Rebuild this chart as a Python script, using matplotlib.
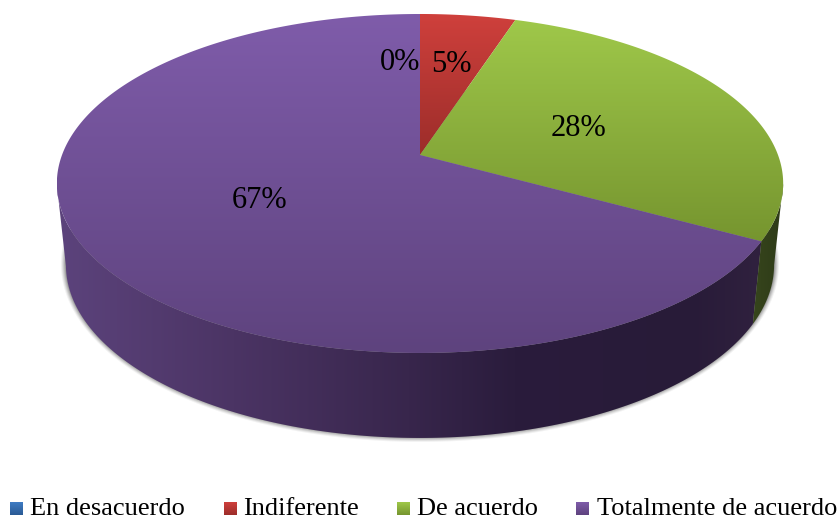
import numpy as np
import matplotlib
matplotlib.use('Agg')
import matplotlib.pyplot as plt
from matplotlib.colors import LinearSegmentedColormap
from matplotlib.patches import Polygon

categories = ['En desacuerdo', 'Indiferente', 'De acuerdo', 'Totalmente de acuerdo']
values = [0, 5, 28, 67]
colors_top = [('#3F7CC4', '#2A5A94'), ('#CF403C', '#9C2D2A'), ('#9FC84A', '#76952F'), ('#7F5CAA', '#5E437E')]
legend_x = [10, 224, 397, 576]
text_x = [30, 243, 417, 597]
label_pos = [(400, 62), (451, 64), (578, 128), (260, 200)]

plt.rcParams['font.family'] = ['Liberation Serif', 'DejaVu Serif']

fig = plt.figure(figsize=(8.39, 5.21), dpi=100)
ax = fig.add_axes([0, 0, 1, 1])
ax.set_xlim(0, 839)
ax.set_ylim(521, 0)
ax.axis('off')


def top_rim(theta):
    # perspective circle, the pie center is not the ellipse center
    k, a, b = 0.168, 358.0, 164.7
    d = 1 + k * np.cos(theta)
    return 420 + a * np.sin(theta) / d, 155 - b * np.cos(theta) / d


def bottom_rim(theta):
    x, y = top_rim(theta)
    return 420 + (x - 420) * 0.975, 265 + (y - 183.5) * 173 / 169.5


def fill_gradient(points, stops, horizontal=False):
    # gradient image clipped to a polygon
    points = np.array(points)
    x0, y0 = points.min(axis=0)
    x1, y1 = points.max(axis=0)
    cmap = LinearSegmentedColormap.from_list('g', stops)
    grad = np.linspace(0, 1, 256).reshape(1, -1) if horizontal else np.linspace(0, 1, 256).reshape(-1, 1)
    im = ax.imshow(grad, cmap=cmap, extent=(x0, x1, y1, y0), aspect='auto', zorder=3, interpolation='bilinear')
    patch = Polygon(points, closed=True, transform=ax.transData, fill=False, edgecolor='none')
    ax.add_patch(patch)
    im.set_clip_path(patch)


fractions = np.cumsum([0] + values) / sum(values)
angles = fractions * 2 * np.pi

# soft shadow under the side
t = np.linspace(0, 2 * np.pi, 400)
bx, by = bottom_rim(t)
for grow, alpha in [(5, 0.05), (4, 0.07), (3, 0.09), (2, 0.11), (1, 0.14)]:
    sx = 420 + (bx - 420) * (1 + grow / 354)
    sy = 265 + (by - 265) * (1 + grow / 173) - 1
    ax.fill(sx, sy, color='black', alpha=alpha, lw=0, zorder=1)

# purple side, from the green border round to the left edge
t = np.linspace(angles[3], 2 * np.pi, 300)
tx, ty = top_rim(t)
left = np.argmin(tx)
tx, ty = tx[:left + 1], ty[:left + 1]
bx, by = bottom_rim(t[:left + 1])
fill_gradient(list(zip(tx, ty)) + list(zip(bx, by))[::-1],
              [(0, '#5C437C'), (0.25, '#4B3464'), (0.5, '#38264C'), (0.65, '#2A1C3C'), (0.9, '#281B38'), (1, '#30213F')],
              horizontal=True)

# green side, right of that border
t = np.linspace(angles[3], 0, 200)
tx, ty = top_rim(t)
right = np.argmax(tx)
tx, ty = tx[:right + 1], ty[:right + 1]
bx, by = bottom_rim(t[:right + 1])
fill_gradient(list(zip(tx, ty)) + list(zip(bx, by))[::-1], ['#36451C', '#2E3A18'], horizontal=True)

# top face
for i in range(1, len(values)):
    t = np.linspace(angles[i], angles[i + 1], 300)
    x, y = top_rim(t)
    pts = [(420, 155)] + list(zip(x, y))
    fill_gradient(pts, colors_top[i])

# percent labels
for val, (x, y) in zip(values, label_pos):
    ax.text(x, y, f'{val}%', fontsize=22, ha='center', va='center', color='black', zorder=5)

# legend
for name, sq_x, txt_x, c in zip(categories, legend_x, text_x, colors_top):
    fill_gradient([(sq_x, 502), (sq_x + 13, 502), (sq_x + 13, 515), (sq_x, 515)], c)
    ax.text(txt_x, 515, name, fontsize=19, ha='left', va='baseline', color='black', zorder=5)

ax.set_xlim(0, 839)
ax.set_ylim(521, 0)
fig.savefig('out.png', dpi=100)
